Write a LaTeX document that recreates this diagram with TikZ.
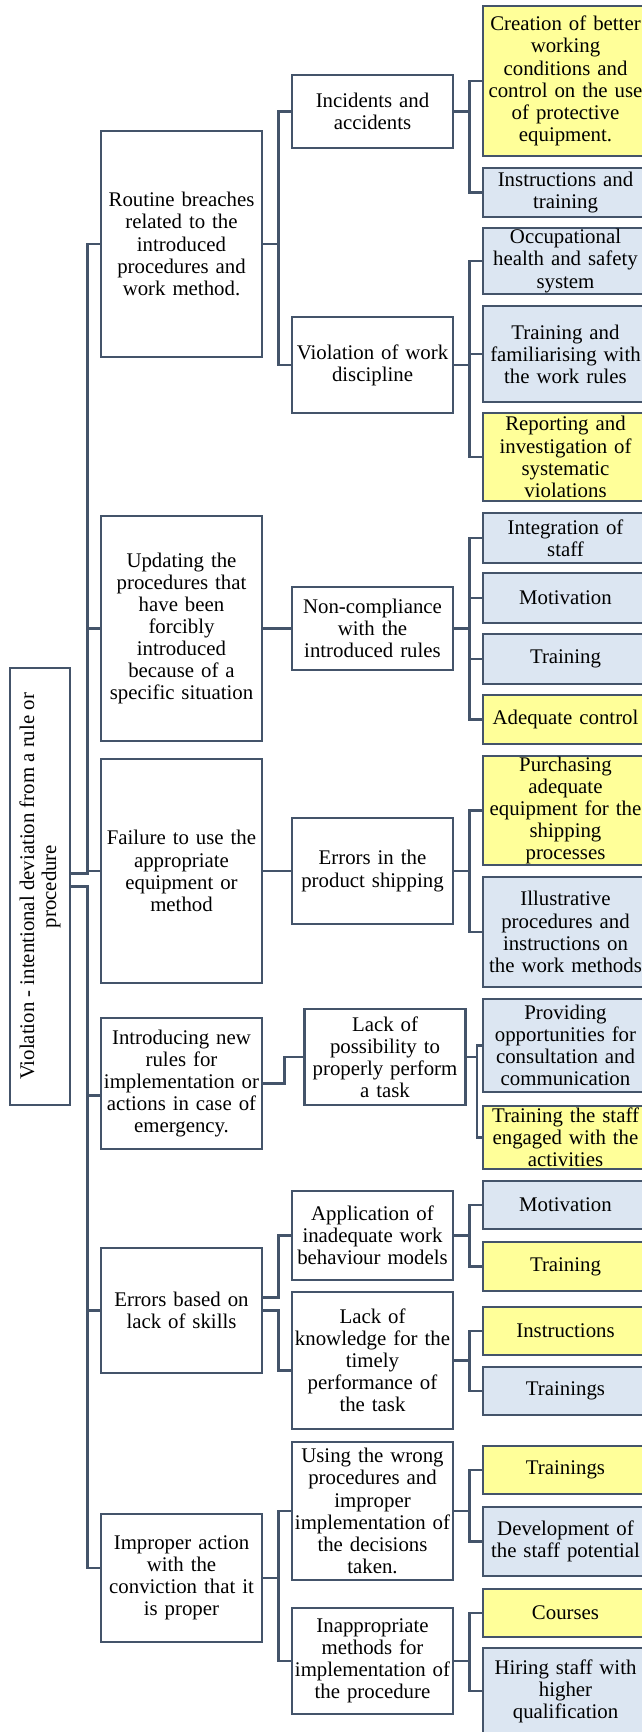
\documentclass[tikz,border=0pt]{standalone}
\usepackage{fontspec}
\setmainfont{Liberation Serif}
\usepackage{graphicx}
\definecolor{edge}{HTML}{44546A}
\definecolor{keyfill}{HTML}{FFFF99}
\definecolor{softblue}{HTML}{DCE6F2}
\newcommand{\boxfont}{\fontsize{12.5pt}{13.26pt}\selectfont}

\begin{document}
\begin{tikzpicture}[
    x=0.6pt, y=-0.6pt,
    ht/.style={minimum height=#1*0.6pt},
    rootbox/.style={rectangle, draw=edge, line width=1.5pt, fill=white, minimum width=36pt, minimum height=262.2pt, inner sep=0pt, font=\boxfont},
    cause/.style={rectangle, draw=edge, line width=1.5pt, fill=white, align=center, text width=94pt, minimum width=96.6pt, inner xsep=1.3pt, inner ysep=0pt, font=\boxfont},
    issue/.style={cause},
    action/.style={rectangle, draw=edge, line width=1.5pt, fill=softblue, align=center, text width=96pt, minimum width=99pt, inner xsep=1.5pt, inner ysep=0pt, font=\boxfont},
    keyaction/.style={action, fill=keyfill},
    link/.style={draw=edge, line width=1.5pt}
]
\useasboundingbox (0,0) rectangle (642,1732);

\node[rootbox] (root) at (40,886.5) {\rotatebox{90}{\parbox{250pt}{\centering Violation - intentional deviation from a rule or\\ procedure}}};

\node[cause, ht=226] (routine) at (181.5,244) {Routine breaches\\ related to the\\ introduced\\ procedures and\\ work method.};
\node[cause, ht=225] (updating) at (181.5,628.5) {Updating the\\ procedures that\\ have been\\ forcibly\\ introduced\\ because of a\\ specific situation};
\node[cause, ht=224] (failure) at (181.5,871) {Failure to use the\\ appropriate\\ equipment or\\ method};
\node[cause, ht=131] (introducing) at (181.5,1083.5) {Introducing new\\ rules for\\ implementation or\\ actions in case of\\ emergency.};
\node[cause, ht=125] (errskill) at (181.5,1310.5) {Errors based on\\ lack of skills};
\node[cause, ht=128] (improper) at (181.5,1578) {Improper action\\ with the\\ conviction that it\\ is proper};

\node[issue, ht=73] (incid) at (372.5,111.5) {Incidents and\\ accidents};
\node[issue, ht=96] (discip) at (372.5,365) {Violation of work\\ discipline};
\node[issue, ht=83] (noncomp) at (372.5,628.5) {Non-compliance\\ with the\\ introduced rules};
\node[issue, ht=106] (shipping) at (372.5,871) {Errors in the\\ product shipping};
\node[issue, ht=96] (lackposs) at (385,1057) {Lack of\\ possibility to\\ properly perform\\ a task};
\node[issue, ht=89] (applic) at (372.5,1235.5) {Application of\\ inadequate work\\ behaviour models};
\node[issue, ht=137] (lackknow) at (372.5,1360.5) {Lack of\\ knowledge for the\\ timely\\ performance of\\ the task};
\node[issue, ht=138] (wrongproc) at (372.5,1511) {Using the wrong\\ procedures and\\ improper\\ implementation of\\ the decisions\\ taken.};
\node[issue, ht=106] (inapprop) at (372.5,1661) {Inappropriate\\ methods for\\ implementation of\\ the procedure};

\node[keyaction, ht=150] (creation) at (565.5,81) {Creation of better\\ working\\ conditions and\\ control on the use\\ of protective\\ equipment.};
\node[action, ht=49] (instrtrain) at (565.5,192.5) {Instructions and\\ training};
\node[action, ht=66] (ohs) at (565.5,261) {Occupational\\ health and safety\\ system};
\node[action, ht=96] (familiar) at (565.5,354) {Training and\\ familiarising with\\ the work rules};
\node[keyaction, ht=88] (reporting) at (565.5,457) {Reporting and\\ investigation of\\ systematic\\ violations};
\node[action, ht=50] (integration) at (565.5,538) {Integration of\\ staff};
\node[action, ht=50] (motiva) at (565.5,598) {Motivation};
\node[action, ht=50] (traina) at (565.5,659) {Training};
\node[keyaction, ht=49] (control) at (565.5,719.5) {Adequate control};
\node[keyaction, ht=109] (purchase) at (565.5,810.5) {Purchasing\\ adequate\\ equipment for the\\ shipping\\ processes};
\node[action, ht=110] (illustr) at (565.5,932) {Illustrative\\ procedures and\\ instructions on\\ the work methods};
\node[action, ht=93] (consult) at (565.5,1045.5) {Providing\\ opportunities for\\ consultation and\\ communication};
\node[keyaction, ht=63] (trainstaff) at (565.5,1137.5) {Training the staff\\ engaged with the\\ activities};
\node[action, ht=48] (motivb) at (565.5,1205) {Motivation};
\node[keyaction, ht=49] (trainb) at (565.5,1266.5) {Training};
\node[keyaction, ht=48] (instr) at (565.5,1331) {Instructions};
\node[action, ht=48] (trainingsa) at (565.5,1391) {Trainings};
\node[keyaction, ht=48] (trainingsb) at (565.5,1470) {Trainings};
\node[action, ht=69] (develop) at (565.5,1541.5) {Development of\\ the staff potential};
\node[keyaction, ht=48] (courses) at (565.5,1613) {Courses};
\node[action, ht=86] (hiring) at (565.5,1691) {Hiring staff with\\ higher\\ qualification};

\draw[link] ([yshift=7.8pt]root.east) -- ++(16,0) |- (routine.west);
\draw[link] ([yshift=7.8pt]root.east) -- ++(16,0) |- (updating.west);
\draw[link] ([yshift=7.8pt]root.east) -- ++(16,0) |- (failure.west);
\draw[link] (root.east) -- ++(16,0) |- ([yshift=-7.2pt]introducing.west);
\draw[link] (root.east) -- ++(16,0) |- (errskill.west);
\draw[link] (root.east) -- ++(16,0) |- ([yshift=6pt]improper.west);

\draw[link] (routine.east) -- ++(15,0) |- (incid.west);
\draw[link] (routine.east) -- ++(15,0) |- (discip.west);
\draw[link] (updating.east) -- (noncomp.west);
\draw[link] (failure.east) -- (shipping.west);
\draw[link] (introducing.east) -- ++(21,0) |- (lackposs.west);
\draw[link] ([yshift=7.8pt]errskill.east) -- ++(15,0) |- (applic.west);
\draw[link] (errskill.east) -- ++(15,0) |- ([yshift=-6pt]lackknow.west);
\draw[link] (improper.east) -- ++(15,0) |- (wrongproc.west);
\draw[link] (improper.east) -- ++(15,0) |- (inapprop.west);

\draw[link] (incid.east) -- ++(15,0) |- (creation.west);
\draw[link] (incid.east) -- ++(15,0) |- (instrtrain.west);
\draw[link] (discip.east) -- ++(15,0) |- (ohs.west);
\draw[link] (discip.east) -- ++(15,0) |- (familiar.west);
\draw[link] (discip.east) -- ++(15,0) |- (reporting.west);
\draw[link] (noncomp.east) -- ++(15,0) |- (integration.west);
\draw[link] (noncomp.east) -- ++(15,0) |- (motiva.west);
\draw[link] (noncomp.east) -- ++(15,0) |- (traina.west);
\draw[link] (noncomp.east) -- ++(15,0) |- (control.west);
\draw[link] (shipping.east) -- ++(15,0) |- (purchase.west);
\draw[link] (shipping.east) -- ++(15,0) |- (illustr.west);
\draw[link] (lackposs.east) -- ++(10,0) |- (consult.west);
\draw[link] (lackposs.east) -- ++(10,0) |- (trainstaff.west);
\draw[link] (applic.east) -- ++(15,0) |- (motivb.west);
\draw[link] (applic.east) -- ++(15,0) |- (trainb.west);
\draw[link] (lackknow.east) -- ++(15,0) |- (instr.west);
\draw[link] (lackknow.east) -- ++(15,0) |- (trainingsa.west);
\draw[link] (wrongproc.east) -- ++(15,0) |- (trainingsb.west);
\draw[link] (wrongproc.east) -- ++(15,0) |- (develop.west);
\draw[link] (inapprop.east) -- ++(15,0) |- (courses.west);
\draw[link] (inapprop.east) -- ++(15,0) |- (hiring.west);
\end{tikzpicture}
\end{document}
